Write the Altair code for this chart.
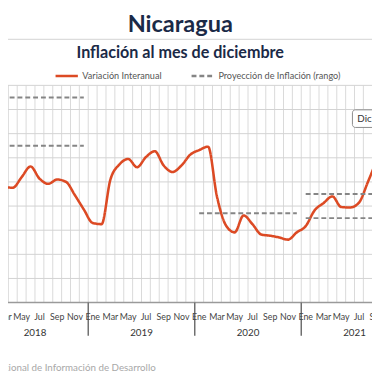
import altair as alt
import pandas as pd

# ---- data ----
month_names = ["Ene", "Feb", "Mar", "Abr", "May", "Jun", "Jul", "Ago", "Sep", "Oct", "Nov", "Dic"]
years = [2018, 2019, 2020, 2021]

# month index t: 0 = Ene 2018
t_index = list(range(2, 45))
inflacion = [4.79, 4.76, 5.2, 5.64, 5.14, 4.92, 5.10, 5.0, 4.45, 3.86,
             3.3, 3.25, 5.1, 5.72, 5.95, 5.61, 6.03, 6.27, 5.68, 5.41, 5.68, 6.13,
             6.32, 6.46, 4.4, 3.21, 2.91, 3.61, 3.25, 2.82, 2.77, 2.70, 2.61, 2.91,
             3.17, 3.82, 4.12, 4.40, 3.96, 3.94, 4.14, 4.99, 5.9]

proj_year = [2018, 2018, 2020, 2021, 2021]
proj_value = [6.5, 8.5, 3.7, 3.5, 4.5]

y_grid = [1, 2, 3, 4, 5, 6, 7, 8, 9]
x_grid = list(range(3, 44))

SERIE_A = "Variación Interanual"
SERIE_B = "Proyección de Inflación (rango)"
TITLE = "Nicaragua"
SUBTITLE = "Inflación al mes de diciembre"
NOTE = "Dic 2021: 7.2%"
SOURCE = "Fuente: Sistema Nacional de Información de  Desarrollo"

W, H = 372, 222
x_dom = [2.96, 43.97]

line_df = pd.DataFrame({"t": [t + 0.5 for t in t_index], "valor": inflacion, "serie": SERIE_A})
proj_df = pd.DataFrame({
    "t0": [(y - 2018) * 12 + 0.5 for y in proj_year],
    "t1": [(y - 2018) * 12 + 11.5 for y in proj_year],
    "valor": proj_value,
    "serie": SERIE_B,
})
all_months = [(y, m) for y in years for m in range(12)]
month_df = pd.DataFrame({
    "t": [(y - 2018) * 12 + m + 0.5 for y, m in all_months],
    "mes": [month_names[m] for y, m in all_months],
})
month_df = month_df[month_df["mes"].isin(["Ene", "Mar", "May", "Jul", "Sep", "Nov"])]
year_df = pd.DataFrame({"t": [(y - 2018) * 12 + 6 for y in years], "anio": [str(y) for y in years]})
sep_df = pd.DataFrame({"t": [(y - 2018) * 12 for y in years[1:]]})
ygrid_df = pd.DataFrame({"v": y_grid})
xgrid_df = pd.DataFrame({"t": x_grid})
base_df = pd.DataFrame({"v": [0]})
one = pd.DataFrame({"k": [0]})

RED = "#dc4a24"
GRAY = "#858585"
NAVY = "#1b2a47"
FONT = "Lato"

xscale = alt.Scale(domain=x_dom, nice=False, zero=False)
yscale = alt.Scale(domain=[0, 9], nice=False, zero=True)

leg = alt.Legend(title=None, orient="none", legendX=47, legendY=-23,
                 direction="horizontal", symbolType="stroke",
                 symbolSize=520, symbolStrokeWidth=2.5,
                 labelFont=FONT, labelFontSize=9.3, labelColor="#555",
                 labelOffset=3, columnPadding=25)
color = alt.Color("serie:N", scale=alt.Scale(domain=[SERIE_A, SERIE_B], range=[RED, GRAY]), legend=leg)
dash = alt.StrokeDash("serie:N", scale=alt.Scale(domain=[SERIE_A, SERIE_B], range=[[1, 0], [5, 3]]), legend=leg)

xgrid = alt.Chart(xgrid_df).mark_rule(color="#d9d9d9", strokeWidth=1).encode(
    x=alt.X("t:Q", scale=xscale, axis=None), y=alt.value(0), y2=alt.value(H))
ygrid = alt.Chart(ygrid_df).mark_rule(color="#d2d2d2", strokeWidth=1).encode(
    y=alt.Y("v:Q", scale=yscale, axis=None), x=alt.value(0), x2=alt.value(W))
baseline = alt.Chart(base_df).mark_rule(color="#9a9a9a", strokeWidth=1.5).encode(
    y=alt.Y("v:Q", axis=None), x=alt.value(0), x2=alt.value(W))

line = alt.Chart(line_df).mark_line(interpolate="monotone", strokeWidth=2.6, clip=True).encode(
    x=alt.X("t:Q", axis=None), y=alt.Y("valor:Q", axis=None),
    color=color, strokeDash=dash,
)

proj = alt.Chart(proj_df).mark_rule(strokeWidth=2, clip=True).encode(
    x=alt.X("t0:Q", axis=None), x2="t1:Q", y=alt.Y("valor:Q", axis=None),
    color=color, strokeDash=dash,
)

months = alt.Chart(month_df).mark_text(font=FONT, fontSize=9, color="#444", baseline="middle").encode(
    x=alt.X("t:Q", axis=None), y=alt.value(H + 15), text="mes:N")
yrs = alt.Chart(year_df).mark_text(font=FONT, fontSize=10, color="#333", baseline="middle").encode(
    x=alt.X("t:Q", axis=None), y=alt.value(H + 31), text="anio:N")
seps = alt.Chart(sep_df).mark_rule(color="#6e6e6e", strokeWidth=1.5).encode(
    x=alt.X("t:Q", axis=None), y=alt.value(H), y2=alt.value(H + 34))

topline = alt.Chart(one).mark_rule(color="#dcdcdc", strokeWidth=1.5).encode(
    x=alt.value(0), x2=alt.value(W), y=alt.value(-47))

title = alt.Chart(one).mark_text(font=FONT, fontSize=24, fontWeight="bold", color=NAVY,
                                 align="center", baseline="middle").encode(
    x=alt.value(176), y=alt.value(-62), text=alt.value(TITLE))
subtitle = alt.Chart(one).mark_text(font=FONT, fontSize=16.5, fontWeight="bold", color=NAVY,
                                    align="center", baseline="middle").encode(
    x=alt.value(176), y=alt.value(-33), text=alt.value(SUBTITLE))

note_box = alt.Chart(one).mark_rect(fill="white", stroke="#8a8a8a", strokeWidth=1,
                                    cornerRadius=3, clip=True).encode(
    x=alt.value(352), x2=alt.value(430), y=alt.value(25), y2=alt.value(43))
note_txt = alt.Chart(one).mark_text(font=FONT, fontSize=10, color="#333", align="left",
                                    baseline="middle", clip=True).encode(
    x=alt.value(357), y=alt.value(34), text=alt.value(NOTE))

src = alt.Chart(one).mark_text(font=FONT, fontSize=10, color="#a8a8a8", align="right",
                               baseline="middle").encode(
    x=alt.value(151), y=alt.value(H + 67), text=alt.value(SOURCE))

chart = alt.layer(xgrid, ygrid, baseline, topline, line, proj, seps, months, yrs,
                  note_box, note_txt, src, title, subtitle).properties(
    width=W, height=H,
    autosize=alt.AutoSizeParams(type="none"),
    padding={"left": 0, "top": 75, "right": 0, "bottom": 74},
).configure_view(stroke=None)

chart.save("out.html", embed_options={"renderer": "svg", "actions": False})
